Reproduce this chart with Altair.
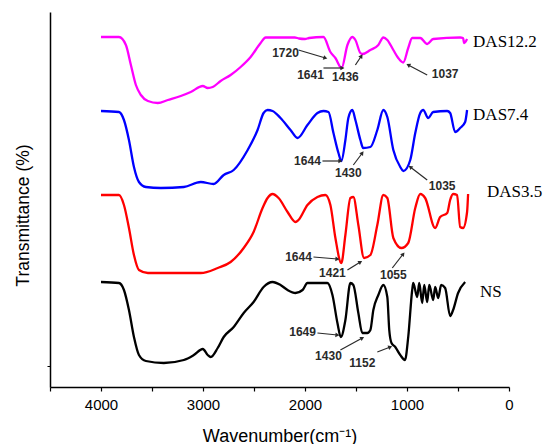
import math
import altair as alt
import pandas as pd

# ---- spectra (wavenumber cm-1, transmittance in arbitrary offset units) ----
das122_wn = [4000, 3824, 3756, 3707, 3658, 3609, 3540, 3443, 3345, 3218, 3120, 3002, 2954, 2905, 2827, 2729, 2631, 2533, 2435, 2386, 2100, 2060, 2000, 1960, 1819, 1751, 1702, 1641, 1584, 1536, 1506, 1457, 1436, 1359, 1281, 1232, 1193, 1134, 1086, 1037, 988, 949, 870, 802, 743, 479, 450, 440, 411]
das122_T = [350, 350, 342, 322, 302, 292, 286, 284, 287, 291, 295, 301, 299, 300, 306, 312, 320, 330, 344, 349.5, 349.5, 348.5, 348, 349, 350, 335, 329, 319, 342, 350, 347, 334, 333, 337, 342, 349.5, 347, 337, 329, 324.5, 339, 349, 349, 343, 348, 349.5, 349, 344, 348]

das74_wn = [4000, 3824, 3775, 3726, 3677, 3628, 3560, 3413, 3188, 3022, 2895, 2797, 2699, 2562, 2465, 2406, 2367, 2318, 2240, 2142, 2073, 1976, 1878, 1819, 1770, 1721, 1672, 1644, 1604, 1575, 1536, 1506, 1457, 1430, 1359, 1291, 1232, 1193, 1134, 1066, 1035, 968, 919, 870, 841, 792, 743, 606, 577, 528, 479, 430, 411]
das74_T = [276, 275, 267, 247, 220, 205, 200, 199, 200, 205, 203, 212, 217, 237, 257, 274, 277, 276, 269, 257, 249, 262, 274, 276, 275, 254, 234, 226, 247, 269, 277, 267, 247, 239, 240, 257, 277, 270, 237, 220, 216, 227, 254, 274, 277, 269, 275, 276, 274, 255, 259, 265, 277]

das35_wn = [4000, 3824, 3775, 3726, 3677, 3628, 3540, 3286, 3022, 2856, 2729, 2601, 2504, 2416, 2367, 2318, 2259, 2171, 2093, 2064, 1976, 1878, 1800, 1751, 1702, 1644, 1604, 1555, 1526, 1477, 1421, 1359, 1291, 1232, 1193, 1134, 1055, 988, 919, 870, 822, 724, 675, 606, 577, 548, 509, 479, 450, 411, 401]
das35_T = [192, 192, 182, 159, 132, 117, 114, 114, 114, 119, 125, 139, 155, 179, 189, 193, 189, 175, 165, 167, 182, 190, 192, 182, 149, 124, 152, 189, 190, 162, 129, 132, 162, 192, 189, 149, 139, 144, 179, 193, 189, 159, 170, 174, 187, 193, 192, 160, 159, 175, 193]

ns_wn = [4000, 3824, 3775, 3726, 3677, 3628, 3560, 3384, 3188, 3090, 3002, 2954, 2924, 2856, 2797, 2699, 2601, 2504, 2406, 2318, 2240, 2171, 2093, 2024, 1976, 1780, 1731, 1682, 1649, 1604, 1555, 1526, 1477, 1438, 1389, 1359, 1330, 1281, 1232, 1193, 1174, 1152, 1115, 1066, 1020, 988, 949, 939, 900, 880, 851, 831, 802, 782, 743, 724, 694, 665, 626, 577, 548, 499, 430]
ns_T = [105, 104, 97, 77, 50, 32, 26, 24, 27, 32, 38, 32, 30, 39, 50, 60, 74, 85, 100, 105, 102, 97, 94, 97, 104, 104, 92, 64, 50, 67, 104, 102, 74, 54, 54, 57, 77, 92, 102, 90, 57, 44, 40, 32, 27, 50, 97, 104, 90, 104, 84, 102, 85, 102, 87, 100, 89, 102, 99, 71, 77, 94, 105]

series_names = ["DAS12.2", "DAS7.4", "DAS3.5", "NS"]
series_colors = ["#FF00FF", "#0000FF", "#FF0000", "#000000"]

# ---- series labels ----
lab_text = ["DAS12.2", "DAS7.4", "DAS3.5", "NS"]
lab_wn = [352, 352, 215, 284]
lab_T = [345, 272, 195, 95]

# ---- peak annotations ----
ann_text = ["1720", "1641", "1436", "1037",
            "1644", "1430", "1035",
            "1644", "1421", "1055",
            "1649", "1430", "1152"]
ann_wn = [2191, 1946, 1604, 626,
          1976, 1575, 655,
          2064, 1731, 1134,
          2024, 1770, 1438]
ann_T = [334, 312, 310, 313,
         226, 214, 201,
         130, 114, 112,
         55, 31, 24]
arr_wn0 = [2064, 1819, 1506, 802,
           1829, 1526, 802,
           1917, 1584, 1144,
           1878, 1653, 1291]
arr_T0 = [337, 319, 322, 312,
          226, 222, 207,
          130, 117, 119,
          54, 37, 35]
arr_wn1 = [1800, 1633, 1447, 988,
           1653, 1438, 968,
           1682, 1457, 1037,
           1682, 1438, 1164]
arr_T1 = [329, 319, 331, 322,
          226, 234, 220,
          128, 125, 133,
          52, 49, 40]

# ---- build tables ----
rows = []
for name, wn, T in zip(series_names,
                       [das122_wn, das74_wn, das35_wn, ns_wn],
                       [das122_T, das74_T, das35_T, ns_T]):
    for w, t in zip(wn, T):
        rows.append({"series": name, "wn": w, "T": t})
spec = pd.DataFrame(rows)

W, H = 459, 375
XMAX = 4500
YMAX = 375
pxw = W / XMAX
pxt = H / YMAX

angles = []
for a, b, c, d in zip(arr_wn0, arr_T0, arr_wn1, arr_T1):
    dx = -(c - a) * pxw
    dy = -(d - b) * pxt
    angles.append(math.degrees(math.atan2(dx, -dy)) % 360)

ann = pd.DataFrame({"text": ann_text, "wn": ann_wn, "T": ann_T,
                    "wn0": arr_wn0, "T0": arr_T0, "wn1": arr_wn1, "T1": arr_T1,
                    "angle": angles})
labs = pd.DataFrame({"text": lab_text, "wn": lab_wn, "T": lab_T})

xscale = alt.Scale(domain=[XMAX, 0], nice=False, zero=False)
yscale = alt.Scale(domain=[0, YMAX], nice=False, zero=False)

xaxis = alt.Axis(values=list(range(0, 4501, 500)),
                 labelExpr="datum.value % 1000 == 0 ? datum.label : ''",
                 format="d", tickSize=4, tickColor="black", tickWidth=1.2,
                 labelFontSize=15, labelFont="Liberation Sans", labelColor="black",
                 labelPadding=6, labelFlush=False, labelOverlap=False,
                 title="Wavenumber(cm⁻¹)", titleFontSize=18,
                 titleFont="Liberation Sans", titleFontWeight="normal",
                 titleColor="black", titleX=229.5, titleY=54,
                 titleBaseline="alphabetic", grid=False,
                 domainColor="black", domainWidth=1.5)
yaxis = alt.Axis(values=[21], labels=False, tickSize=3, tickColor="black",
                 title="Transmittance (%)", titleFontSize=17.5,
                 titleFont="Liberation Sans", titleFontWeight="normal",
                 titleColor="black", titleX=-18, titleY=203, grid=False,
                 domainColor="black", domainWidth=1.5)

lines = alt.Chart(spec).mark_line(strokeWidth=2.3, interpolate="monotone").encode(
    x=alt.X("wn:Q", scale=xscale, axis=xaxis),
    y=alt.Y("T:Q", scale=yscale, axis=yaxis),
    color=alt.Color("series:N", scale=alt.Scale(domain=series_names, range=series_colors), legend=None),
    detail="series:N",
    order=alt.Order("wn:Q", sort="descending"),
)

arrows = alt.Chart(ann).mark_rule(color="#2a2a2a", strokeWidth=1.2).encode(
    x=alt.X("wn0:Q", scale=xscale), y=alt.Y("T0:Q", scale=yscale),
    x2="wn1:Q", y2="T1:Q",
)

heads = alt.Chart(ann).mark_point(shape="triangle-up", filled=True, size=22,
                                  color="#2a2a2a", opacity=1).encode(
    x=alt.X("wn1:Q", scale=xscale), y=alt.Y("T1:Q", scale=yscale),
    angle=alt.Angle("angle:Q", scale=None),
)

ann_txt = alt.Chart(ann).mark_text(font="Liberation Sans", fontSize=12,
                                   fontWeight="bold", color="#2a2a2a",
                                   align="center", baseline="middle").encode(
    x=alt.X("wn:Q", scale=xscale), y=alt.Y("T:Q", scale=yscale), text="text:N",
)

lab_txt = alt.Chart(labs).mark_text(font="Liberation Serif", fontSize=17,
                                    color="black", align="left",
                                    baseline="middle").encode(
    x=alt.X("wn:Q", scale=xscale), y=alt.Y("T:Q", scale=yscale), text="text:N",
)

chart = alt.layer(lines, arrows, heads, ann_txt, lab_txt).properties(
    width=W, height=H,
    autosize=alt.AutoSizeParams(type="none"),
    padding={"left": 50, "top": 12, "right": 36, "bottom": 57},
    background="white",
).configure_view(stroke=None)

chart.save("out.html", embed_options={"renderer": "svg", "actions": False})
